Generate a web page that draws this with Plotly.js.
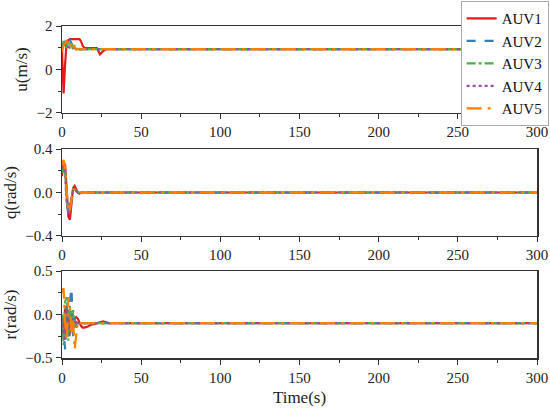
<!DOCTYPE html>
<html><head><meta charset="utf-8">
<script src="https://cdn.plot.ly/plotly-3.0.1.min.js"></script>
<style>html,body{margin:0;padding:0;background:#fff}#plot{width:550px;height:411px}</style>
</head><body><div id="plot"></div>
<script>
const time = [0,1,2,3,4,5,6,7,8,9,10,11,12,13,14,16,18,20,22,24,26,28,30,40,300];
const names = ["AUV1","AUV2","AUV3","AUV4","AUV5"];
const colors = ["#e41a1c","#377eb8","#4daf4a","#984ea3","#ff7f00"];
const dashes = ["solid","dash","dashdot","dot","longdashdot"];

const u1 = [0.9,-1.1,0.3,1.3,1.35,1.4,1.4,1.4,1.4,1.4,1.4,1.4,1.3,1.1,1.0,1.0,1.0,1.0,0.98,0.7,0.85,0.93,0.94,0.94,0.94];
const u2 = [1.0,1.2,1.3,1.1,1.25,1.35,1.2,1.0,1.1,0.95,0.92,0.93,0.94,0.94,0.94,0.94,0.94,0.94,0.94,0.94,0.94,0.94,0.94,0.94,0.94];
const u3 = [0.9,1.3,1.35,1.0,1.3,0.95,1.2,0.9,1.1,0.92,0.95,0.93,0.94,0.94,0.94,0.94,0.94,0.94,0.94,0.94,0.94,0.94,0.94,0.94,0.94];
const u4 = [0.95,1.2,1.1,1.3,1.0,1.2,1.05,1.0,0.95,0.94,0.93,0.94,0.94,0.94,0.94,0.94,0.94,0.94,0.94,0.94,0.94,0.94,0.94,0.94,0.94];
const u5 = [0.8,1.1,1.2,1.3,1.15,1.0,1.3,1.15,1.0,0.95,0.92,0.93,0.94,0.94,0.94,0.94,0.94,0.94,0.94,0.94,0.94,0.94,0.94,0.94,0.94];

const q1 = [0.15,0.28,0.25,0.0,-0.22,-0.25,-0.1,0.04,0.06,0.03,0.0,-0.01,0,0,0,0,0,0,0,0,0,0,0,0,0];
const q2 = [0.2,0.3,0.2,-0.05,-0.2,-0.18,-0.05,0.03,0.03,0.01,0.0,0,0,0,0,0,0,0,0,0,0,0,0,0,0];
const q3 = [0.18,0.29,0.18,-0.08,-0.19,-0.15,-0.04,0.02,0.03,0.01,0.0,0,0,0,0,0,0,0,0,0,0,0,0,0,0];
const q4 = [0.22,0.27,0.15,-0.1,-0.2,-0.12,-0.03,0.02,0.02,0.01,0.0,0,0,0,0,0,0,0,0,0,0,0,0,0,0];
const q5 = [0.25,0.3,0.22,-0.02,-0.18,-0.16,-0.05,0.03,0.03,0.01,0.0,0,0,0,0,0,0,0,0,0,0,0,0,0,0];

const r1 = [-0.1,-0.25,0.1,-0.2,0.05,-0.15,0.0,-0.1,-0.05,-0.03,-0.05,-0.1,-0.13,-0.15,-0.15,-0.14,-0.12,-0.11,-0.1,-0.09,-0.08,-0.09,-0.1,-0.1,-0.1];
const r2 = [-0.1,-0.2,-0.4,0.1,-0.2,0.15,0.3,-0.25,0.0,-0.15,-0.1,-0.11,-0.1,-0.1,-0.1,-0.1,-0.1,-0.1,-0.1,-0.1,-0.1,-0.1,-0.1,-0.1,-0.1];
const r3 = [0.0,-0.35,0.15,0.2,-0.3,0.1,-0.2,0.05,-0.15,-0.08,-0.12,-0.1,-0.1,-0.1,-0.1,-0.1,-0.1,-0.1,-0.1,-0.1,-0.1,-0.1,-0.1,-0.1,-0.1];
const r4 = [-0.05,-0.2,-0.3,0.1,-0.1,-0.25,0.0,-0.18,-0.05,-0.12,-0.1,-0.1,-0.1,-0.1,-0.1,-0.1,-0.1,-0.1,-0.1,-0.1,-0.1,-0.1,-0.1,-0.1,-0.1];
const r5 = [0.25,0.3,-0.1,-0.3,0.2,0.1,-0.2,-0.05,-0.4,-0.2,-0.08,-0.1,-0.1,-0.1,-0.1,-0.1,-0.1,-0.1,-0.1,-0.1,-0.1,-0.1,-0.1,-0.1,-0.1];

const U = [u1,u2,u3,u4,u5], Q = [q1,q2,q3,q4,q5], R = [r1,r2,r3,r4,r5];
const traces = [];
[[U,'x','y'],[Q,'x2','y2'],[R,'x3','y3']].forEach(([set,xa,ya],k)=>{
  set.forEach((vals,i)=>{
    traces.push({x:time,y:vals,xaxis:xa,yaxis:ya,type:'scatter',mode:'lines',name:names[i],
      showlegend:k===0,line:{color:colors[i],width:2.2,dash:dashes[i]}});
  });
});
const FAM = 'Liberation Serif';
const font = {family:FAM,size:15,color:'#222'};
function xax(anchor, title){
  const a = {domain:[0,1],range:[0,300],anchor:anchor,tickvals:[0,50,100,150,200,250,300],
    ticks:'outside',ticklen:5,tickwidth:1,tickcolor:'#333',showline:true,linecolor:'#333',linewidth:1.5,
    mirror:true,showgrid:false,zeroline:false,tickfont:{family:FAM,size:15,color:'#222'},
    minor:{tickvals:[25,75,125,175,225,275],ticks:'outside',ticklen:3,tickcolor:'#333'}};
  if(title) a.title={text:title,font:{family:FAM,size:17,color:'#222'},standoff:6};
  return a;
}
function yax(anchor, dom, range, tv, ttxt, mv, title){
  return {domain:dom,range:range,anchor:anchor,tickvals:tv,ticktext:ttxt,
    ticks:'outside',ticklen:5,tickwidth:1,tickcolor:'#333',showline:true,linecolor:'#333',linewidth:1.5,
    mirror:true,showgrid:false,zeroline:false,tickfont:{family:FAM,size:15,color:'#222'},
    minor:{tickvals:mv,ticks:'outside',ticklen:3,tickcolor:'#333'},
    title:{text:title,font:{family:FAM,size:17,color:'#222'},standoff:4}};
}
const layout = {
  width:550,height:411,margin:{l:62,r:13,t:26,b:53,autoexpand:false},
  paper_bgcolor:'#fff',plot_bgcolor:'#fff',font:font,
  xaxis:xax('y',null),xaxis2:xax('y2',null),xaxis3:xax('y3','Time(s)'),
  yaxis:yax('x',[0.738,1],[-2,2],[-2,0,2],['\u22122','0','2'],[-1,1],'u(m/s)'),
  yaxis2:yax('x2',[0.3675,0.6295],[-0.4,0.4],[-0.4,0,0.4],['\u22120.4','0.0','0.4'],[-0.2,0.2],'q(rad/s)'),
  yaxis3:yax('x3',[0,0.262],[-0.5,0.5],[-0.5,0,0.5],['\u22120.5','0.0','0.5'],[-0.25,0.25],'r(rad/s)'),
  legend:{x:1.0245,y:1.075,xanchor:'right',yanchor:'top',bgcolor:'#fff',bordercolor:'#aaa',borderwidth:1,
    font:{family:FAM,size:15,color:'#111'},tracegroupgap:0,itemwidth:30}
};
Plotly.newPlot('plot',traces,layout,{staticPlot:true,displayModeBar:false});
</script></body></html>
